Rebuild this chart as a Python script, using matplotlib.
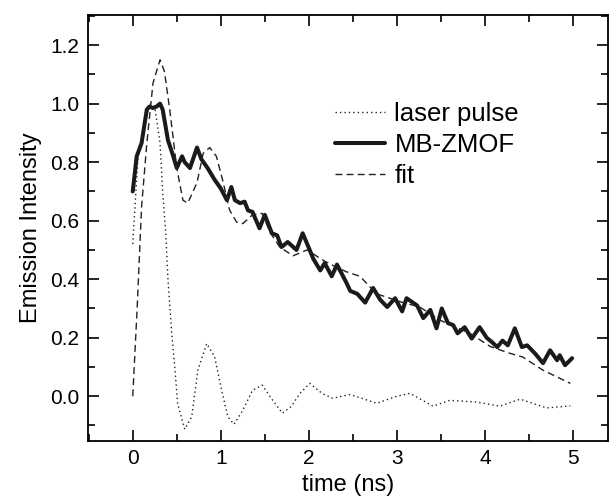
import numpy as np
import matplotlib
matplotlib.use("Agg")
import matplotlib.pyplot as plt
from matplotlib.ticker import MultipleLocator

plt.rcParams['font.family'] = ['Liberation Sans', 'DejaVu Sans']

# laser pulse (dotted)
t_laser = [0.00, 0.06, 0.14, 0.19, 0.25, 0.31, 0.34, 0.375, 0.40, 0.44, 0.48, 0.51,
           0.59, 0.67, 0.74, 0.84, 0.93, 1.01, 1.08, 1.15, 1.25, 1.36, 1.47, 1.59,
           1.70, 1.80, 1.90, 2.01, 2.15, 2.27, 2.47, 2.77, 3.00, 3.15, 3.41, 3.60,
           3.91, 4.17, 4.40, 4.70, 4.97]
y_laser = [0.52, 0.82, 0.94, 1.00, 0.99, 0.865, 0.70, 0.557, 0.40, 0.226, 0.09, -0.025,
           -0.113, -0.07, 0.09, 0.18, 0.135, 0.02, -0.07, -0.096, -0.048, 0.02, 0.038, -0.014,
           -0.058, -0.035, 0.01, 0.044, 0.01, -0.007, 0.006, -0.024, 0.0, 0.01, -0.034, -0.014,
           -0.02, -0.034, -0.01, -0.04, -0.033]

# MB-ZMOF emission (thick solid)
t_mb = [0.00, 0.045, 0.10, 0.16, 0.19, 0.23, 0.27, 0.31, 0.34, 0.40, 0.45, 0.50,
        0.56, 0.59, 0.65, 0.73, 0.78, 0.85, 0.93, 1.00, 1.07, 1.12, 1.16, 1.22,
        1.27, 1.31, 1.36, 1.44, 1.50, 1.58, 1.64, 1.69, 1.76, 1.86, 1.93, 2.01,
        2.05, 2.13, 2.18, 2.26, 2.32, 2.43, 2.47, 2.55, 2.64, 2.73, 2.81, 2.89,
        2.98, 3.06, 3.11, 3.23, 3.30, 3.38, 3.45, 3.51, 3.58, 3.64, 3.69, 3.77,
        3.85, 3.94, 4.02, 4.08, 4.14, 4.20, 4.26, 4.34, 4.42, 4.48, 4.57, 4.66,
        4.74, 4.82, 4.85, 4.91, 4.99]
y_mb = [0.70, 0.82, 0.865, 0.98, 0.99, 0.985, 0.99, 1.00, 0.98, 0.875, 0.83, 0.78,
        0.82, 0.80, 0.78, 0.85, 0.81, 0.78, 0.74, 0.71, 0.67, 0.715, 0.67, 0.66,
        0.665, 0.635, 0.63, 0.574, 0.62, 0.557, 0.55, 0.51, 0.527, 0.50, 0.557, 0.50,
        0.47, 0.43, 0.455, 0.41, 0.45, 0.386, 0.36, 0.35, 0.32, 0.37, 0.33, 0.305,
        0.335, 0.29, 0.335, 0.31, 0.267, 0.295, 0.232, 0.30, 0.25, 0.243, 0.215, 0.236,
        0.197, 0.236, 0.20, 0.185, 0.168, 0.19, 0.174, 0.232, 0.168, 0.174, 0.146, 0.113,
        0.157, 0.123, 0.14, 0.106, 0.13]

# fit (dashed)
t_fit = [0.00, 0.05, 0.10, 0.16, 0.23, 0.31, 0.36, 0.42, 0.50, 0.57, 0.625, 0.73,
         0.80, 0.875, 0.95, 1.02, 1.10, 1.18, 1.25, 1.36, 1.47, 1.56, 1.67, 1.82,
         1.98, 2.16, 2.32, 2.43, 2.58, 2.77, 3.07, 3.26, 3.49, 3.83, 4.06, 4.28,
         4.43, 4.66, 4.97]
y_fit = [0.00, 0.30, 0.646, 0.865, 1.07, 1.15, 1.11, 0.98, 0.78, 0.67, 0.66, 0.73,
         0.83, 0.85, 0.82, 0.74, 0.636, 0.595, 0.59, 0.62, 0.625, 0.56, 0.51, 0.48,
         0.50, 0.465, 0.44, 0.425, 0.41, 0.35, 0.32, 0.305, 0.26, 0.215, 0.17, 0.147,
         0.134, 0.089, 0.044]

fig = plt.figure(figsize=(6.1, 5.0), dpi=100)
ax = fig.add_axes([0.144, 0.118, 0.853, 0.852])

ax.plot(t_laser, y_laser, color="#222222", lw=1.0, ls=(0, (1, 2.2)), label="laser pulse")
ax.plot(t_mb, y_mb, color="#1a1a1a", lw=2.9, label="MB-ZMOF",
        solid_joinstyle="round", solid_capstyle="round")
ax.plot(t_fit, y_fit, color="#222222", lw=1.0, ls=(0, (5, 3)), label="fit")

ax.set_xlim(-0.51, 5.4)
ax.set_ylim(-0.153, 1.303)
ax.xaxis.set_major_locator(MultipleLocator(1))
ax.xaxis.set_minor_locator(MultipleLocator(0.5))
ax.yaxis.set_major_locator(MultipleLocator(0.2))
ax.yaxis.set_minor_locator(MultipleLocator(0.1))
ax.yaxis.set_major_formatter(matplotlib.ticker.FormatStrFormatter('%.1f'))
ax.tick_params(which="both", direction="in", top=True, right=True, width=1.2,
               labelsize=15, pad=6)
ax.tick_params(which="major", length=8)
ax.tick_params(which="minor", length=5)
for s in ax.spines.values():
    s.set_linewidth(1.3)

ax.set_xlabel("time (ns)", fontsize=17, labelpad=4)
ax.set_ylabel("Emission Intensity", fontsize=17, labelpad=6)

ax.legend(loc="upper left", bbox_to_anchor=(0.455, 0.82), frameon=False,
          fontsize=18.5, handlelength=1.95, handletextpad=0.37, labelspacing=0.28,
          borderaxespad=0)

fig.savefig("out.png", dpi=100)
